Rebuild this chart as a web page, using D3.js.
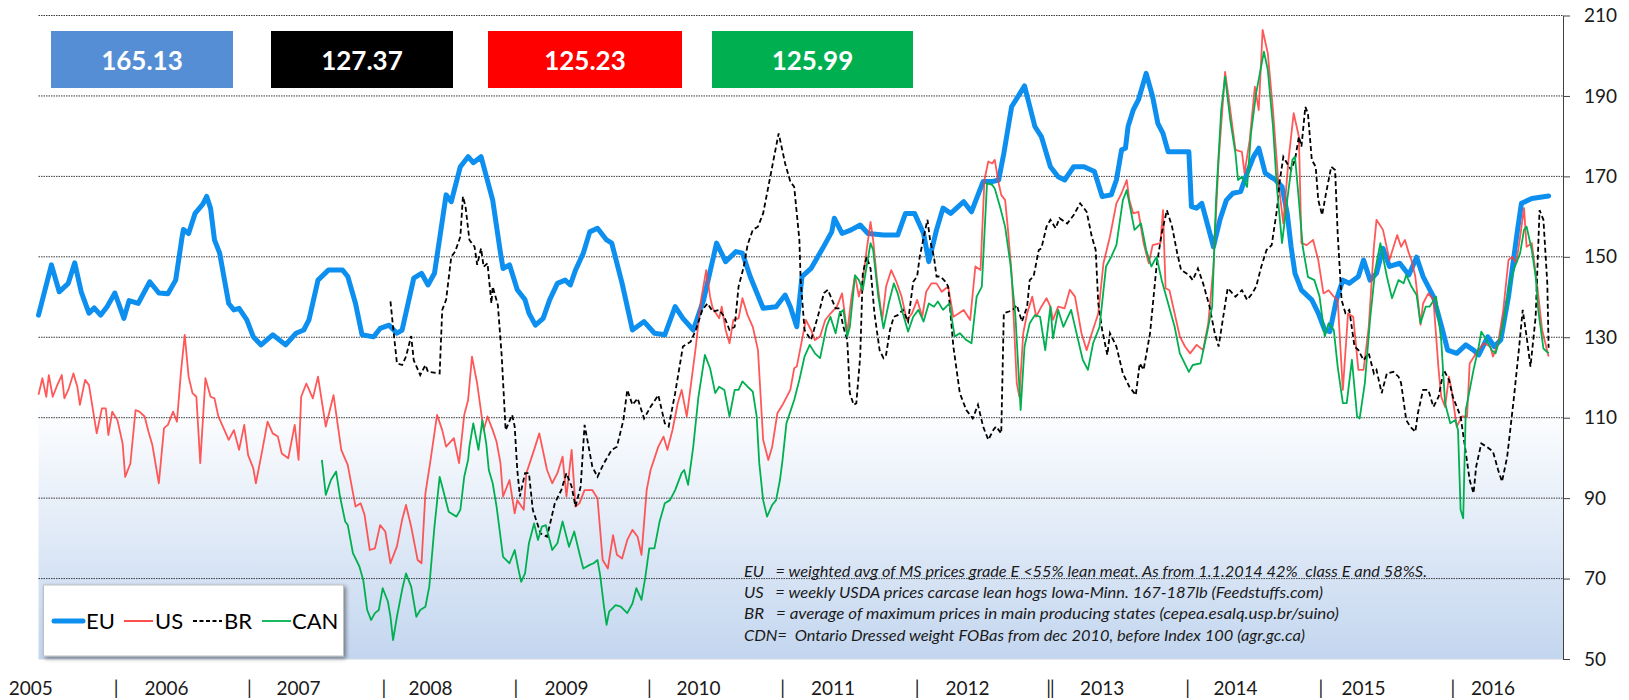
<!DOCTYPE html>
<html lang="en">
<head>
<meta charset="utf-8">
<title>Pig prices EU / US / BR / CAN</title>
<script src="https://cdn.jsdelivr.net/npm/d3@7"></script>
<style>
  body { margin: 0; background: #fff; }
  svg { font-family: Lato, "Open Sans", sans-serif; }
</style>
</head>
<body>
<script>
// values: [decimal year, price]
var euData = [[2005.00,135.5],[2005.10,148],[2005.16,141.3],[2005.23,143.4],[2005.28,148.5],[2005.33,141.3],[2005.39,136],[2005.43,137.3],[2005.48,135.5],[2005.53,137.6],[2005.59,141],[2005.66,134.7],[2005.70,139.1],[2005.77,138.4],[2005.86,143.8],[2005.93,141],[2006.00,140.8],[2006.06,144.2],[2006.11,155],[2006.12,156.8],[2006.16,155.8],[2006.21,160.8],[2006.27,163.1],[2006.30,165],[2006.33,162],[2006.36,154.2],[2006.40,150.9],[2006.47,138.4],[2006.51,136.8],[2006.55,137.2],[2006.61,134.3],[2006.66,130.1],[2006.72,128.1],[2006.81,130.6],[2006.91,128.1],[2006.99,131],[2007.05,131.8],[2007.09,134.3],[2007.16,144.2],[2007.24,146.7],[2007.35,146.7],[2007.39,145.1],[2007.45,138.4],[2007.50,130.6],[2007.59,130.1],[2007.64,132.2],[2007.71,133],[2007.77,131],[2007.81,131.8],[2007.90,144.7],[2007.96,145.9],[2008.01,143],[2008.06,145.9],[2008.11,156.7],[2008.15,165.4],[2008.19,163.7],[2008.26,172.4],[2008.32,174.9],[2008.36,173.4],[2008.42,174.9],[2008.51,164.1],[2008.57,151],[2008.59,147.1],[2008.64,148],[2008.70,141.8],[2008.76,139.3],[2008.79,136],[2008.84,133],[2008.90,134.7],[2008.95,139.3],[2009.01,143.4],[2009.07,144.2],[2009.11,143],[2009.15,146.7],[2009.21,150.9],[2009.26,156.2],[2009.32,157.1],[2009.39,154.2],[2009.43,153.4],[2009.51,143.4],[2009.59,131.8],[2009.68,133.9],[2009.76,131],[2009.84,130.6],[2009.92,137.6],[2009.98,134.7],[2010.06,131.8],[2010.14,139.3],[2010.24,153.4],[2010.31,148.8],[2010.39,151.3],[2010.44,150.9],[2010.50,145.1],[2010.60,137.2],[2010.70,137.6],[2010.77,140.5],[2010.81,137.6],[2010.86,132.6],[2010.90,145.1],[2010.97,147.1],[2011.06,152.1],[2011.13,156.2],[2011.15,159.6],[2011.21,155.8],[2011.28,156.7],[2011.35,157.9],[2011.41,155.8],[2011.53,155.4],[2011.64,155.4],[2011.70,160.8],[2011.77,160.8],[2011.84,155.8],[2011.88,148.8],[2011.94,156.7],[2011.99,162.1],[2012.05,160.8],[2012.15,163.7],[2012.21,161.2],[2012.30,168.7],[2012.37,168.7],[2012.42,169.1],[2012.46,175.7],[2012.52,187.3],[2012.62,192.5],[2012.70,182.4],[2012.75,179.9],[2012.82,172.4],[2012.88,169.9],[2012.93,169.1],[2013.00,172.4],[2013.08,172.4],[2013.16,171.2],[2013.22,165],[2013.29,165.4],[2013.33,169.1],[2013.37,176.6],[2013.40,177],[2013.42,182.4],[2013.46,186.5],[2013.50,189],[2013.56,195.6],[2013.61,189.8],[2013.65,183.2],[2013.69,180.7],[2013.73,176.1],[2013.89,176.1],[2013.91,162.5],[2013.95,162.1],[2013.99,163.3],[2014.08,152.5],[2014.13,159.2],[2014.18,164.1],[2014.23,165.8],[2014.29,166.2],[2014.34,170.8],[2014.39,174.9],[2014.43,177],[2014.48,170.8],[2014.56,169.1],[2014.61,167.4],[2014.65,160.8],[2014.68,152.5],[2014.71,145.9],[2014.76,141.7],[2014.84,139.3],[2014.89,136],[2014.94,131.8],[2014.98,131.4],[2015.03,139.3],[2015.08,144.2],[2015.13,143.4],[2015.20,145.1],[2015.24,149.2],[2015.29,144.2],[2015.34,145.9],[2015.39,152.1],[2015.44,147.6],[2015.52,148.4],[2015.59,145.5],[2015.65,149.9],[2015.70,145.1],[2015.78,140.1],[2015.85,131.8],[2015.89,126.8],[2015.96,126],[2016.03,128.1],[2016.09,126.8],[2016.13,125.6],[2016.20,130.1],[2016.25,127.7],[2016.30,129.3],[2016.36,140.1],[2016.43,156.7],[2016.46,163.3],[2016.54,164.5],[2016.67,165.13]];

var usData = [[2005.00,115.7],[2005.03,119.8],[2005.06,115.2],[2005.08,120.6],[2005.11,115.2],[2005.14,117.7],[2005.18,120.6],[2005.20,114.8],[2005.23,116.9],[2005.27,121],[2005.30,117.7],[2005.32,113.2],[2005.36,119.4],[2005.39,118.1],[2005.45,106.1],[2005.49,112.3],[2005.52,112.3],[2005.54,105.7],[2005.57,111.5],[2005.61,109.4],[2005.65,103.6],[2005.67,95.3],[2005.71,98.6],[2005.75,111.9],[2005.78,111.5],[2005.82,110.3],[2005.85,106.5],[2005.88,103.2],[2005.93,93.7],[2005.97,107.4],[2006.00,108.2],[2006.04,111.5],[2006.07,109],[2006.10,121],[2006.13,130.6],[2006.16,120.2],[2006.19,116.1],[2006.22,115.2],[2006.25,98.7],[2006.29,119.8],[2006.33,115.2],[2006.36,114.8],[2006.39,110.3],[2006.43,107.4],[2006.47,104.5],[2006.51,106.9],[2006.55,102],[2006.59,108.2],[2006.62,100.7],[2006.66,97.4],[2006.68,93.7],[2006.73,102],[2006.77,109],[2006.81,106.1],[2006.85,105.3],[2006.88,101.1],[2006.93,99.9],[2006.98,108.2],[2007.01,99.5],[2007.03,115.2],[2007.07,118.5],[2007.12,114.8],[2007.16,120.2],[2007.22,107.8],[2007.28,115.6],[2007.34,102],[2007.39,98.2],[2007.45,87.9],[2007.49,88.7],[2007.52,85.8],[2007.56,77.1],[2007.60,77.5],[2007.64,83.3],[2007.68,81.7],[2007.72,73.8],[2007.77,78],[2007.81,84.6],[2007.84,88.3],[2007.88,82.9],[2007.93,74.6],[2007.96,73.8],[2007.99,91.2],[2008.03,99.5],[2008.08,110.7],[2008.12,106.9],[2008.15,102.8],[2008.21,104.9],[2008.25,98.7],[2008.29,110.7],[2008.32,114.4],[2008.35,125.2],[2008.39,118.5],[2008.42,111.5],[2008.44,106.9],[2008.47,110.3],[2008.51,106.9],[2008.54,104],[2008.57,98.7],[2008.59,90.4],[2008.64,94.5],[2008.68,86.2],[2008.70,89.5],[2008.75,87.1],[2008.77,96.2],[2008.83,102],[2008.87,106.1],[2008.93,97],[2008.97,93.7],[2009.01,96.2],[2009.05,100.3],[2009.08,90.4],[2009.12,102],[2009.15,87.9],[2009.18,88.7],[2009.22,92],[2009.28,92],[2009.32,89.9],[2009.36,74.6],[2009.40,72.5],[2009.44,80.8],[2009.47,75.9],[2009.51,75],[2009.55,79.6],[2009.59,82.1],[2009.63,80.4],[2009.66,75.9],[2009.70,92],[2009.73,97],[2009.79,102.8],[2009.83,105.3],[2009.86,102],[2009.90,107],[2009.94,113.6],[2009.97,116.9],[2010.01,110.3],[2010.04,117.7],[2010.08,127.7],[2010.12,139.3],[2010.16,146.7],[2010.19,140.1],[2010.21,137.2],[2010.26,134.7],[2010.28,137.6],[2010.31,131.8],[2010.34,128.5],[2010.37,134.3],[2010.41,134.7],[2010.44,139.7],[2010.48,135.5],[2010.52,132.6],[2010.56,126.8],[2010.60,104.5],[2010.64,99.5],[2010.67,102.8],[2010.71,111.1],[2010.75,113.2],[2010.81,116.9],[2010.84,122.3],[2010.86,122.7],[2010.90,129.3],[2010.93,134.3],[2010.97,131.8],[2011.00,129.3],[2011.04,130.2],[2011.08,134.3],[2011.12,135.9],[2011.17,137.6],[2011.21,140.9],[2011.25,131],[2011.28,139.3],[2011.31,145.4],[2011.34,140.1],[2011.37,144.2],[2011.40,151.7],[2011.43,158.7],[2011.45,154.2],[2011.48,144.2],[2011.52,134.3],[2011.55,142.6],[2011.59,146.7],[2011.63,143.8],[2011.67,140.1],[2011.71,134.3],[2011.75,135.9],[2011.79,139.3],[2011.83,135.1],[2011.86,141.3],[2011.90,143.4],[2011.94,143.4],[2011.98,141.3],[2012.03,142.6],[2012.07,135.1],[2012.11,135.9],[2012.15,136.8],[2012.20,134.3],[2012.24,147.6],[2012.28,146.7],[2012.31,169.1],[2012.34,173.7],[2012.37,173.2],[2012.39,174.1],[2012.42,168.3],[2012.44,165.4],[2012.47,164.1],[2012.49,157.5],[2012.52,145.9],[2012.56,118.6],[2012.58,115.2],[2012.61,131],[2012.64,135.9],[2012.68,140.1],[2012.71,135.1],[2012.75,137.6],[2012.79,139.7],[2012.82,137.6],[2012.84,134.3],[2012.88,137.6],[2012.93,137.2],[2012.97,141.8],[2013.01,140.1],[2013.06,131],[2013.10,126.8],[2013.14,131],[2013.19,135.9],[2013.23,148.4],[2013.28,155],[2013.33,163.3],[2013.37,165.8],[2013.41,169.1],[2013.43,164.1],[2013.46,160.8],[2013.50,161.2],[2013.54,153.4],[2013.58,148.4],[2013.61,152.9],[2013.67,153.4],[2013.69,161.6],[2013.71,142.2],[2013.74,141.7],[2013.78,135.9],[2013.82,130.2],[2013.86,127.7],[2013.90,126],[2013.95,128.1],[2014.00,126.8],[2014.04,133.5],[2014.08,147.6],[2014.12,174.1],[2014.17,196],[2014.21,186.5],[2014.25,176.6],[2014.30,176.1],[2014.32,170.8],[2014.36,179],[2014.40,192.3],[2014.43,186.5],[2014.46,206.4],[2014.50,200.6],[2014.54,186.5],[2014.58,169.1],[2014.62,158.3],[2014.66,174.1],[2014.70,185.7],[2014.74,179.9],[2014.76,153.4],[2014.80,152.9],[2014.85,154.2],[2014.89,149.2],[2014.93,140.9],[2014.97,141.7],[2015.01,140.1],[2015.04,139.3],[2015.08,116.9],[2015.12,135.9],[2015.16,135.1],[2015.20,121.9],[2015.24,121.9],[2015.28,132.6],[2015.32,152.5],[2015.34,159.2],[2015.39,156.7],[2015.44,149.2],[2015.50,155.4],[2015.53,152.5],[2015.56,154.2],[2015.59,150.9],[2015.61,149.2],[2015.64,145.1],[2015.66,139.3],[2015.68,133.1],[2015.70,138.4],[2015.74,140.9],[2015.78,139.3],[2015.82,121.9],[2015.84,115.2],[2015.87,112.7],[2015.90,120.2],[2015.92,116.9],[2015.96,107.8],[2016.00,110.3],[2016.04,110.3],[2016.06,123.5],[2016.11,126],[2016.17,128.5],[2016.22,127.7],[2016.24,125.2],[2016.28,128.5],[2016.32,136.8],[2016.36,149.2],[2016.39,150],[2016.42,148.4],[2016.45,155],[2016.48,162.1],[2016.50,152.5],[2016.54,153.4],[2016.58,143.4],[2016.62,131.8],[2016.67,125.23]];

var brData = [[2007.72,138.9],[2007.74,132.6],[2007.77,123.5],[2007.81,123.1],[2007.84,125.2],[2007.88,130.3],[2007.90,124.3],[2007.95,120.6],[2007.99,123.1],[2008.01,121.4],[2008.10,121],[2008.12,136.8],[2008.15,139.3],[2008.19,150],[2008.22,151.3],[2008.26,155],[2008.28,165],[2008.30,162.5],[2008.33,154.2],[2008.37,152.5],[2008.39,148],[2008.42,152.1],[2008.44,147.5],[2008.47,148.4],[2008.50,138.4],[2008.51,142.6],[2008.55,138],[2008.58,125.2],[2008.61,106.9],[2008.66,110.7],[2008.68,107.8],[2008.70,97],[2008.72,90.4],[2008.76,96.2],[2008.79,96.2],[2008.82,87.1],[2008.88,81.2],[2008.93,80.4],[2008.99,88.7],[2009.04,92],[2009.08,96.2],[2009.12,92.9],[2009.15,87.9],[2009.19,92.9],[2009.22,108.2],[2009.28,97.8],[2009.32,95.3],[2009.37,98.7],[2009.43,102],[2009.47,102.8],[2009.52,109.4],[2009.55,116.9],[2009.59,113.2],[2009.63,114.8],[2009.68,109.8],[2009.73,112.7],[2009.79,115.6],[2009.84,108.6],[2009.87,107.8],[2009.92,116.1],[2009.98,127.7],[2010.04,128.9],[2010.08,131.8],[2010.13,136.8],[2010.17,138.4],[2010.21,136.4],[2010.26,136.8],[2010.30,135.1],[2010.34,131.8],[2010.38,132.6],[2010.41,142.6],[2010.45,147.5],[2010.48,153],[2010.52,156.7],[2010.56,157.5],[2010.60,160.8],[2010.64,167.4],[2010.68,174.1],[2010.72,180.7],[2010.77,173.2],[2010.81,168.7],[2010.84,167.4],[2010.88,154.2],[2010.89,144.2],[2010.92,131.8],[2010.97,129.3],[2011.03,136],[2011.07,141],[2011.10,141.8],[2011.16,137.2],[2011.19,137.2],[2011.22,132.6],[2011.25,129.3],[2011.27,116.1],[2011.30,113.2],[2011.32,113.6],[2011.35,125.2],[2011.37,145.9],[2011.40,150],[2011.43,147.1],[2011.46,136],[2011.50,126.8],[2011.53,124.8],[2011.55,125.6],[2011.58,131.8],[2011.61,135.1],[2011.64,135.5],[2011.68,136.8],[2011.72,133.9],[2011.76,143.8],[2011.79,145.1],[2011.81,150],[2011.85,156.3],[2011.87,159.2],[2011.89,154.2],[2011.92,150],[2011.94,145.1],[2011.97,145.1],[2012.01,143.8],[2012.03,142.6],[2012.07,127.7],[2012.12,116.1],[2012.17,111.9],[2012.22,109.8],[2012.26,113.2],[2012.30,107.8],[2012.34,104.5],[2012.38,107],[2012.40,107.8],[2012.44,106.1],[2012.46,136],[2012.50,136.4],[2012.53,136.8],[2012.56,138],[2012.60,133.9],[2012.64,137.6],[2012.66,144.2],[2012.69,145.1],[2012.73,151.7],[2012.75,152.1],[2012.79,157.5],[2012.82,159.2],[2012.86,157.1],[2012.89,159.6],[2012.95,158.3],[2013.00,160.4],[2013.05,163.3],[2013.10,161.2],[2013.14,155],[2013.17,151.7],[2013.19,138.4],[2013.22,131.8],[2013.26,125.6],[2013.28,131],[2013.33,127.7],[2013.38,121],[2013.43,117.7],[2013.48,115.6],[2013.51,123.5],[2013.54,121.9],[2013.59,131],[2013.64,147.6],[2013.68,155.8],[2013.72,161.6],[2013.76,157.5],[2013.80,150.9],[2013.83,146.7],[2013.89,145.5],[2013.92,144.2],[2013.96,147.1],[2014.00,143.4],[2014.05,137.6],[2014.09,131],[2014.12,127.7],[2014.16,136],[2014.19,142.2],[2014.25,140.1],[2014.30,141.7],[2014.34,139.3],[2014.38,140.9],[2014.41,142.6],[2014.45,147.6],[2014.49,151.7],[2014.53,152.9],[2014.57,161.6],[2014.59,168.3],[2014.62,174.9],[2014.65,173.2],[2014.68,171.6],[2014.71,174.1],[2014.74,179.9],[2014.76,177.4],[2014.79,187.3],[2014.81,185.7],[2014.84,174.1],[2014.87,172.4],[2014.89,164.1],[2014.92,160.4],[2014.95,165.8],[2014.99,172.4],[2015.02,171.6],[2015.04,155.8],[2015.07,139.3],[2015.10,136],[2015.13,136.8],[2015.17,127.7],[2015.20,126.8],[2015.24,124.3],[2015.28,126],[2015.32,121],[2015.34,121.9],[2015.38,116.1],[2015.42,121],[2015.47,121.4],[2015.51,120.2],[2015.53,118.6],[2015.57,109.4],[2015.60,107.8],[2015.64,106.5],[2015.66,111.1],[2015.70,116.9],[2015.74,116.9],[2015.78,112.7],[2015.82,115.2],[2015.86,121.9],[2015.90,119.4],[2015.93,115.2],[2015.99,110.3],[2016.02,103.6],[2016.06,94.5],[2016.09,91.2],[2016.11,97.8],[2016.15,103.6],[2016.19,102.8],[2016.24,101.6],[2016.28,97],[2016.31,94.1],[2016.35,100.3],[2016.40,114.4],[2016.44,126.8],[2016.47,136.8],[2016.50,130.2],[2016.53,122.7],[2016.57,135.1],[2016.60,161.6],[2016.63,159.2],[2016.66,143.4],[2016.67,127.37]];

var canData = [[2007.19,99.5],[2007.22,90.8],[2007.26,94.5],[2007.30,96.6],[2007.33,90.4],[2007.37,84.2],[2007.39,83.3],[2007.43,76.3],[2007.48,73],[2007.51,69.6],[2007.54,62.2],[2007.57,59.7],[2007.60,61.4],[2007.63,62.2],[2007.66,67.6],[2007.70,64.3],[2007.72,60.5],[2007.74,54.7],[2007.77,60.5],[2007.81,67.2],[2007.84,71.3],[2007.88,68],[2007.92,60.5],[2007.95,62.2],[2007.99,63],[2008.02,68],[2008.06,82.9],[2008.10,95.3],[2008.12,92.9],[2008.17,86.6],[2008.23,85.4],[2008.26,87.1],[2008.29,95.3],[2008.32,99.5],[2008.33,102.8],[2008.36,108.6],[2008.40,102],[2008.43,109.4],[2008.46,103.6],[2008.48,97],[2008.51,93.7],[2008.54,87.9],[2008.59,75.4],[2008.64,73.8],[2008.68,77.1],[2008.71,72.1],[2008.73,69.2],[2008.76,71.3],[2008.79,78.8],[2008.83,83.7],[2008.86,79.6],[2008.89,82.9],[2008.92,83.3],[2008.97,77.1],[2009.01,78.8],[2009.05,84.2],[2009.10,77.9],[2009.14,81.7],[2009.18,76.3],[2009.21,72.5],[2009.26,73.4],[2009.29,73.8],[2009.32,74.6],[2009.34,70.9],[2009.37,63],[2009.39,58.5],[2009.41,61.8],[2009.46,63.4],[2009.50,63],[2009.55,61.4],[2009.59,63.8],[2009.62,67.6],[2009.66,64.7],[2009.69,70.5],[2009.72,77.5],[2009.76,77.5],[2009.80,84.2],[2009.84,88.7],[2009.88,89.5],[2009.92,92],[2009.97,96.2],[2009.99,97],[2010.02,93.3],[2010.06,102.8],[2010.10,115.2],[2010.15,125.6],[2010.19,122.3],[2010.23,116.1],[2010.26,117.7],[2010.30,116.9],[2010.34,110.3],[2010.38,116.9],[2010.41,116.9],[2010.44,119],[2010.48,117.7],[2010.52,116.5],[2010.55,110.3],[2010.57,98.7],[2010.60,89.5],[2010.63,85.4],[2010.67,88.3],[2010.70,89.5],[2010.73,94.5],[2010.75,99.5],[2010.78,108.6],[2010.81,111.5],[2010.84,114.4],[2010.88,119.4],[2010.92,125.2],[2010.96,128.1],[2011.00,126],[2011.04,124.8],[2011.09,132.6],[2011.12,135.1],[2011.16,131],[2011.19,135.9],[2011.22,136.8],[2011.25,130.2],[2011.27,132.6],[2011.31,145.4],[2011.34,144.2],[2011.37,141.8],[2011.40,147.6],[2011.43,153.4],[2011.45,151.7],[2011.49,140.1],[2011.53,132.2],[2011.57,138.4],[2011.61,143.4],[2011.64,140.9],[2011.68,135.9],[2011.72,131.4],[2011.76,135.1],[2011.80,136.8],[2011.84,133.9],[2011.88,138.4],[2011.92,137.6],[2011.95,138.9],[2011.99,136.8],[2012.04,138.4],[2012.08,130.2],[2012.12,131],[2012.17,129.3],[2012.21,128.5],[2012.25,140.1],[2012.29,142.6],[2012.33,168.3],[2012.37,167.9],[2012.39,167],[2012.43,162.5],[2012.47,157.5],[2012.51,148.4],[2012.55,135.1],[2012.59,111.9],[2012.62,127.7],[2012.66,133.5],[2012.70,135.5],[2012.74,135.1],[2012.78,126.8],[2012.82,137.6],[2012.84,129.7],[2012.88,136.8],[2012.92,132.6],[2012.98,136.8],[2013.04,128.5],[2013.07,124.4],[2013.11,121.9],[2013.15,128.5],[2013.20,132.6],[2013.25,147.6],[2013.29,150],[2013.33,152.9],[2013.38,164.1],[2013.41,166.6],[2013.45,160],[2013.47,156.7],[2013.52,158.3],[2013.56,151.7],[2013.60,147.6],[2013.64,150],[2013.68,144.2],[2013.73,138.4],[2013.78,132.6],[2013.82,126],[2013.89,121.4],[2013.92,123.1],[2013.98,123.5],[2014.03,131],[2014.07,137.6],[2014.10,164.1],[2014.14,186.5],[2014.17,194.8],[2014.21,184],[2014.25,175.7],[2014.27,169.1],[2014.30,169.9],[2014.34,167.4],[2014.37,180.7],[2014.41,190.7],[2014.47,201],[2014.50,196.5],[2014.54,182.4],[2014.57,167.4],[2014.61,153.4],[2014.65,164.1],[2014.69,174.1],[2014.71,174.9],[2014.74,164.1],[2014.77,152.5],[2014.81,145],[2014.86,144.2],[2014.90,140.1],[2014.94,130.2],[2014.97,133.5],[2015.01,131.8],[2015.04,122.7],[2015.08,113.6],[2015.11,113.6],[2015.15,124.4],[2015.19,110.3],[2015.21,109.8],[2015.25,118.6],[2015.29,134.3],[2015.33,146.7],[2015.37,153.4],[2015.42,145.1],[2015.46,139.7],[2015.51,144.2],[2015.55,143.4],[2015.57,145.5],[2015.61,142.6],[2015.65,140.5],[2015.68,133.5],[2015.72,137.6],[2015.75,137.6],[2015.80,140.1],[2015.84,129.3],[2015.87,113.6],[2015.91,108.6],[2015.95,109.4],[2015.97,106.9],[2015.99,87.1],[2016.01,85],[2016.03,111.9],[2016.05,115.2],[2016.09,121.9],[2016.13,127.7],[2016.15,131.4],[2016.19,129.3],[2016.23,126.8],[2016.26,126],[2016.29,129.3],[2016.33,135.1],[2016.37,143.4],[2016.41,147.6],[2016.45,150.9],[2016.48,156.7],[2016.50,157.5],[2016.54,151.7],[2016.57,145.1],[2016.59,136.8],[2016.63,127.2],[2016.67,125.99]];

var seriesNames = ["EU", "US", "BR", "CAN"];
var lastValues = ["165.13", "127.37", "125.23", "125.99"];
var yTicks = [50, 70, 90, 110, 130, 150, 170, 190, 210];
var xLabels = ["2005","|","2006","|","2007","|","2008","|","2009","|","2010","|","2011","|","2012","\u2016","2013","|","2014","|","2015","|","2016"];
var xLabelAt = [2004.94,2005.60,2005.99,2006.63,2007.01,2007.67,2008.03,2008.69,2009.08,2009.72,2010.10,2010.75,2011.14,2011.79,2012.18,2012.82,2013.22,2013.88,2014.25,2014.91,2015.24,2015.93,2016.24];
var notes = [
  "EU   = weighted avg of MS prices grade E <55% lean meat. As from 1.1.2014 42%  class E and 58%S.",
  "US   = weekly USDA prices carcase lean hogs Iowa-Minn. 167-187lb (Feedstuffs.com)",
  "BR   = average of maximum prices in main producing states (cepea.esalq.usp.br/suino)",
  "CDN=  Ontario Dressed weight FOBas from dec 2010, before Index 100 (agr.gc.ca)"
];

var w = 1629, h = 700;
var plotL = 38.5, plotR = 1563, plotT = 15.5, plotB = 659;

var svg = d3.select("body").append("svg")
  .attr("width", w)
  .attr("height", h);

var x = d3.scaleLinear().domain([2005, 2016.67]).range([plotL, 1548.6]);
var y = d3.scaleLinear().domain([50, 210]).range([plotB, plotT]);

// plot background: white fading to light blue at the bottom
var defs = svg.append("defs");
var grad = defs.append("linearGradient").attr("id", "bg")
  .attr("x1", 0).attr("y1", 0).attr("x2", 0).attr("y2", 1);
grad.append("stop").attr("offset", "0").attr("stop-color", "#ffffff");
grad.append("stop").attr("offset", "0.6").attr("stop-color", "#ffffff");
grad.append("stop").attr("offset", "1").attr("stop-color", "#c3d6ef");

var shadow = defs.append("filter").attr("id", "shadow")
  .attr("x", "-10%").attr("y", "-20%").attr("width", "130%").attr("height", "150%");
shadow.append("feDropShadow").attr("dx", 2).attr("dy", 2).attr("stdDeviation", 2)
  .attr("flood-color", "#000").attr("flood-opacity", 0.45);

svg.append("rect")
  .attr("x", plotL).attr("y", plotT)
  .attr("width", plotR - plotL).attr("height", plotB - plotT)
  .attr("fill", "url(#bg)");

// dotted gridlines
svg.append("g").selectAll("line")
  .data(yTicks.filter(function(d) { return d > 50; }))
  .enter().append("line")
  .attr("x1", plotL).attr("x2", plotR)
  .attr("y1", function(d) { return y(d); })
  .attr("y2", function(d) { return y(d); })
  .attr("stroke", "#3a3a3a")
  .attr("stroke-width", 1)
  .attr("stroke-dasharray", "1.5,1");

svg.append("line")
  .attr("x1", plotL).attr("x2", plotR)
  .attr("y1", y(50)).attr("y2", y(50))
  .attr("stroke", "#d0d8e4");

// right value axis
var yAxis = d3.axisRight(y).tickValues(yTicks).tickSize(7).tickSizeOuter(0).tickPadding(14);
var ax = svg.append("g").attr("transform", "translate(" + plotR + ",0)").call(yAxis);
ax.select(".domain").attr("stroke", "#404040");
ax.selectAll(".tick line").attr("stroke", "#404040");
ax.selectAll(".tick text")
  .attr("font-family", "Lato, sans-serif")
  .attr("font-size", 19)
  .attr("fill", "#1a1a1a");

// year labels under the plot
svg.append("g").selectAll("text")
  .data(xLabels)
  .enter().append("text")
  .attr("x", function(d, i) { return x(xLabelAt[i]); })
  .attr("y", 695)
  .attr("text-anchor", "middle")
  .attr("font-size", 19)
  .attr("fill", "#1a1a1a")
  .text(function(d) { return d; });

// series
var line = d3.line()
  .x(function(d) { return x(d[0]); })
  .y(function(d) { return y(d[1]); });

svg.append("path").datum(euData)
  .attr("d", line)
  .attr("fill", "none")
  .attr("stroke", "#0d8ff0")
  .attr("stroke-width", 5)
  .attr("stroke-linejoin", "round")
  .attr("stroke-linecap", "round");

svg.append("path").datum(usData)
  .attr("d", line)
  .attr("fill", "none")
  .attr("stroke", "#ff3b3b")
  .attr("stroke-opacity", 0.85)
  .attr("stroke-width", 1.8)
  .attr("stroke-linejoin", "round");

svg.append("path").datum(brData)
  .attr("d", line)
  .attr("fill", "none")
  .attr("stroke", "#000")
  .attr("stroke-width", 1.8)
  .attr("stroke-dasharray", "5,3");

svg.append("path").datum(canData)
  .attr("d", line)
  .attr("fill", "none")
  .attr("stroke", "#00b050")
  .attr("stroke-width", 1.8)
  .attr("stroke-linejoin", "round");

// latest value boxes
var boxColor = ["#558ed5", "#000000", "#ff0000", "#00b050"];
var boxX = [51, 271, 488, 712];
var boxW = [182, 182, 194, 201];
var boxes = svg.append("g").selectAll("g")
  .data(lastValues)
  .enter().append("g");
boxes.append("rect")
  .attr("x", function(d, i) { return boxX[i]; })
  .attr("y", 31)
  .attr("width", function(d, i) { return boxW[i]; })
  .attr("height", 57)
  .attr("fill", function(d, i) { return boxColor[i]; });
boxes.append("text")
  .attr("x", function(d, i) { return boxX[i] + boxW[i] / 2; })
  .attr("y", 69.5)
  .attr("text-anchor", "middle")
  .attr("font-size", 26)
  .attr("font-weight", "bold")
  .attr("fill", "#fff")
  .text(function(d) { return d; });

// legend
var lg = svg.append("g");
lg.append("rect")
  .attr("x", 43.5).attr("y", 585)
  .attr("width", 300).attr("height", 71)
  .attr("fill", "#fff")
  .attr("stroke", "#bfbfbf")
  .attr("filter", "url(#shadow)");

var lgSample = [54, 124, 193, 262];
var lgText = [86, 155, 224, 292];
var lgStroke = ["#0d8ff0", "#ff3b3b", "#000", "#00b050"];
var lgWidth = [5, 1.8, 1.8, 1.8];
lg.selectAll(".sample")
  .data(seriesNames)
  .enter().append("line")
  .attr("class", "sample")
  .attr("x1", function(d, i) { return lgSample[i]; })
  .attr("x2", function(d, i) { return lgSample[i] + 29; })
  .attr("y1", 621).attr("y2", 621)
  .attr("stroke", function(d, i) { return lgStroke[i]; })
  .attr("stroke-width", function(d, i) { return lgWidth[i]; })
  .attr("stroke-linecap", function(d, i) { return i === 0 ? "round" : "butt"; })
  .attr("stroke-dasharray", function(d, i) { return i === 2 ? "4,2.5" : null; });
lg.selectAll(".name")
  .data(seriesNames)
  .enter().append("text")
  .attr("class", "name")
  .attr("x", function(d, i) { return lgText[i]; })
  .attr("y", 629)
  .attr("font-size", 22)
  .attr("fill", "#000")
  .text(function(d) { return d; });

// source notes
var noteW = [683, 579, 595, 561];
svg.append("g").selectAll("text")
  .data(notes)
  .enter().append("text")
  .attr("x", 744)
  .attr("y", function(d, i) { return 577 + i * 21.2; })
  .attr("font-size", 15)
  .attr("font-style", "italic")
  .attr("fill", "#1a1a1a")
  .attr("textLength", function(d, i) { return noteW[i]; })
  .attr("lengthAdjust", "spacingAndGlyphs")
  .style("white-space", "pre")
  .text(function(d) { return d; });
</script>
</body>
</html>
